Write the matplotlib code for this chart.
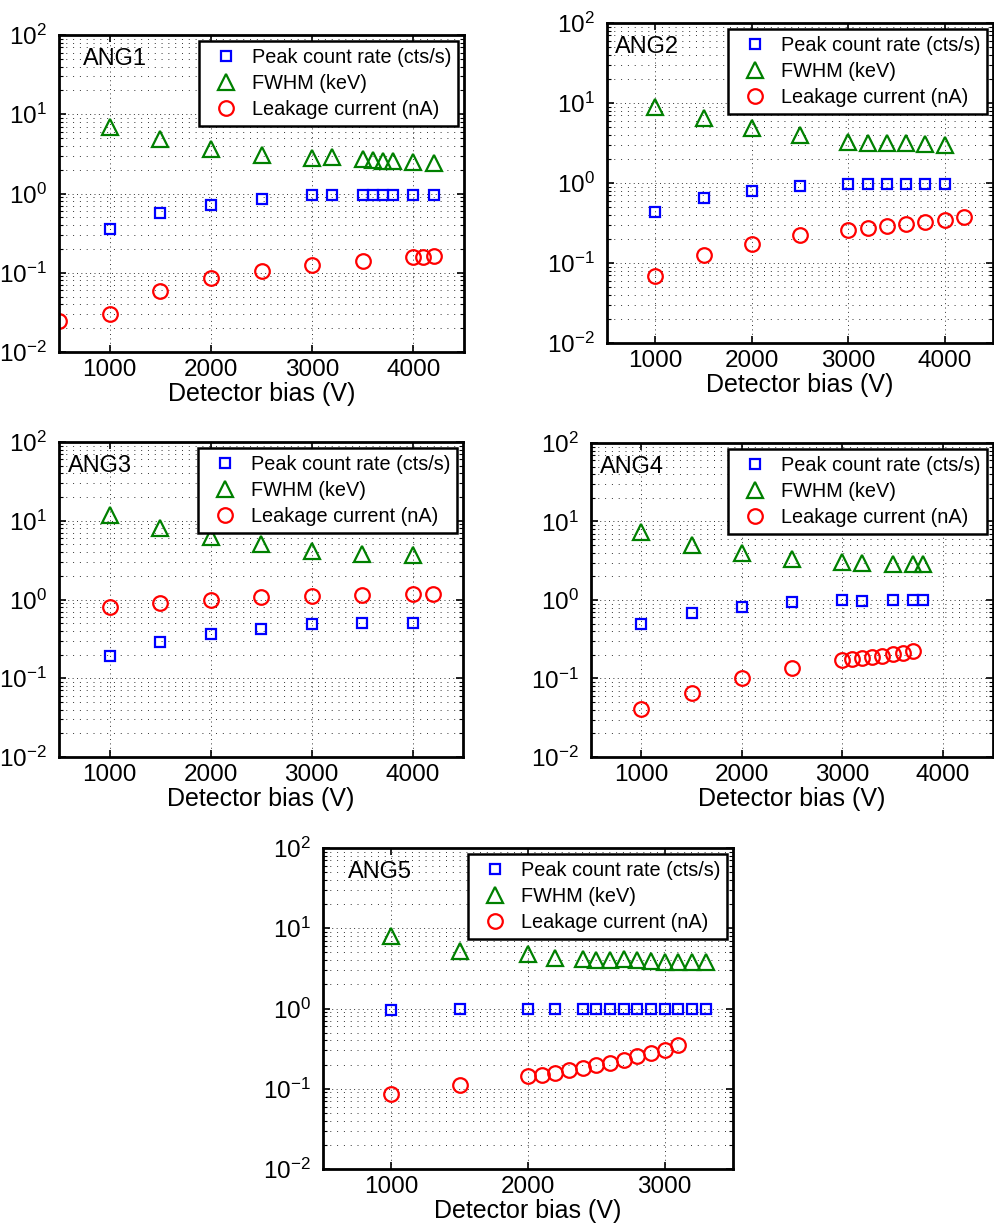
import matplotlib
matplotlib.use("Agg")
import matplotlib.pyplot as plt
from matplotlib.ticker import LogLocator, LogFormatterMathtext, NullFormatter

plt.rcParams['font.family'] = ['Liberation Sans', 'DejaVu Sans']
plt.rcParams['mathtext.fontset'] = 'custom'
plt.rcParams['mathtext.rm'] = 'Liberation Sans'
plt.rcParams['mathtext.it'] = 'Liberation Sans:italic'
plt.rcParams['mathtext.bf'] = 'Liberation Sans:bold'

# ---------------- datos ----------------
x_sq1 = [1000, 1500, 2000, 2500, 3000, 3200, 3500, 3600, 3700, 3800, 4000, 4200]
sq1 = [0.36, 0.565, 0.72, 0.86, 0.96, 0.97, 0.96, 0.96, 0.96, 0.96, 0.97, 0.97]
tri1 = [7.0, 4.9, 3.66, 3.04, 2.84, 2.87, 2.71, 2.62, 2.6, 2.58, 2.48, 2.46]
x_ci1 = [500, 1000, 1500, 2000, 2500, 3000, 3500, 4000, 4100, 4200]
ci1 = [0.0246, 0.0304, 0.0587, 0.0857, 0.106, 0.124, 0.140, 0.159, 0.160, 0.165]

x_sq2 = [1000, 1500, 2000, 2500, 3000, 3200, 3400, 3600, 3800, 4000]
sq2 = [0.437, 0.642, 0.787, 0.917, 0.98, 0.98, 0.98, 0.97, 0.985, 0.975]
tri2 = [8.87, 6.46, 4.84, 3.99, 3.26, 3.2, 3.14, 3.2, 3.1, 2.99]
x_ci2 = [1000, 1500, 2000, 2500, 3000, 3200, 3400, 3600, 3800, 4000, 4200]
ci2 = [0.0684, 0.1265, 0.175, 0.221, 0.258, 0.27, 0.286, 0.303, 0.325, 0.344, 0.371]

x_sq3 = [1000, 1500, 2000, 2500, 3000, 3500, 4000]
sq3 = [0.194, 0.286, 0.365, 0.426, 0.489, 0.503, 0.503]
tri3 = [11.9, 8.17, 6.22, 5.12, 4.09, 3.75, 3.64]
x_ci3 = [1000, 1500, 2000, 2500, 3000, 3500, 4000, 4200]
ci3 = [0.803, 0.912, 1.0, 1.065, 1.097, 1.13, 1.17, 1.17]

x_sq4 = [1000, 1500, 2000, 2500, 3000, 3200, 3500, 3700, 3800]
sq4 = [0.49, 0.677, 0.823, 0.943, 0.99, 0.98, 1.0, 1.0, 1.0]
tri4 = [7.39, 5.0, 4.0, 3.32, 3.01, 3.0, 2.87, 2.9, 2.9]
x_ci4 = [1000, 1500, 2000, 2500, 3000, 3100, 3200, 3300, 3400, 3500, 3600, 3700]
ci4 = [0.0404, 0.0658, 0.102, 0.138, 0.173, 0.178, 0.185, 0.19, 0.196, 0.204, 0.21, 0.222]

x_sq5 = [1000, 1500, 2000, 2200, 2400, 2500, 2600, 2700, 2800, 2900, 3000, 3100, 3200, 3300]
sq5 = [0.949, 0.976, 0.986, 0.995, 0.976, 0.976, 0.976, 0.976, 0.976, 0.976, 0.976, 0.976, 0.976, 0.976]
tri5 = [7.97, 5.24, 4.72, 4.2, 4.13, 3.97, 3.97, 4.17, 4.0, 3.9, 3.83, 3.75, 3.75, 3.83]
x_ci5 = [1000, 1500, 2000, 2100, 2200, 2300, 2400, 2500, 2600, 2700, 2800, 2900, 3000, 3100]
ci5 = [0.0848, 0.11, 0.145, 0.149, 0.159, 0.169, 0.18, 0.195, 0.21, 0.229, 0.256, 0.279, 0.308, 0.348]

nombres = ['ANG1', 'ANG2', 'ANG3', 'ANG4', 'ANG5']
etiquetas = ['Peak count rate (cts/s)', 'FWHM (keV)', 'Leakage current (nA)']
xticks_1a4 = [1000, 2000, 3000, 4000]
xticks_5 = [1000, 2000, 3000]

paneles = [
    (x_sq1, sq1, x_sq1, tri1, x_ci1, ci1, (500, 4500), xticks_1a4),
    (x_sq2, sq2, x_sq2, tri2, x_ci2, ci2, (500, 4500), xticks_1a4),
    (x_sq3, sq3, x_sq3, tri3, x_ci3, ci3, (500, 4500), xticks_1a4),
    (x_sq4, sq4, x_sq4, tri4, x_ci4, ci4, (500, 4500), xticks_1a4),
    (x_sq5, sq5, x_sq5, tri5, x_ci5, ci5, (500, 3500), xticks_5),
]

# posicion de cada panel en pixeles: izquierda, derecha, arriba, abajo
W, H = 995, 1229
cajas = [(59, 464, 35, 352), (607, 993, 23, 343), (59, 463, 442, 757),
         (591, 993, 443, 757), (323, 733, 848, 1169)]
x_texto = [0.06, 0.02, 0.022, 0.022, 0.06]

fig = plt.figure(figsize=(W / 100, H / 100), dpi=100)

for i, (xs, s, xt, t, xc, c, xl, xtk) in enumerate(paneles):
    l, r, top, b = cajas[i]
    ax = fig.add_axes([l / W, 1 - b / H, (r - l) / W, (b - top) / H])
    ax.set_yscale('log')
    ax.plot(xs, s, 's', ms=7.8, mfc='none', mec='blue', mew=1.6, label=etiquetas[0])
    ax.plot(xt, t, '^', ms=12, mfc='none', mec='green', mew=1.6, label=etiquetas[1])
    ax.plot(xc, c, 'o', ms=10.5, mfc='none', mec='red', mew=1.6, label=etiquetas[2])
    ax.set_xlim(*xl)
    ax.set_ylim(1e-2, 1e2)
    ax.set_xticks(xtk)
    ax.yaxis.set_major_locator(LogLocator(base=10, numticks=10))
    ax.yaxis.set_minor_locator(LogLocator(base=10, subs=range(2, 10), numticks=20))
    ax.yaxis.set_major_formatter(LogFormatterMathtext())
    ax.yaxis.set_minor_formatter(NullFormatter())
    ax.tick_params(which='both', direction='in', top=True, right=True, labelsize=17.5)
    ax.tick_params(which='major', length=5, width=1.2)
    ax.tick_params(which='minor', length=3, width=0.8)
    ax.tick_params(axis='y', pad=9)
    ax.tick_params(axis='x', pad=5)
    ax.grid(True, which='major', axis='x', color='0.2', linestyle=(0, (1, 3.5)), linewidth=0.7)
    ax.grid(True, which='major', axis='y', color='0.2', linestyle=(0, (1, 3.5)), linewidth=0.7)
    ax.grid(True, which='minor', axis='y', color='0.2', linestyle=(0, (1, 6)), linewidth=0.7)
    for sp in ax.spines.values():
        sp.set_linewidth(2)
    ax.set_xlabel('Detector bias (V)', fontsize=18, labelpad=1)
    ax.text(x_texto[i], 0.925, nombres[i], transform=ax.transAxes, fontsize=17,
            ha='left', va='center')
    leg = ax.legend(loc='upper right', fontsize=14.3, numpoints=1, handlelength=2.0,
                    handletextpad=0.3, borderaxespad=0.3, labelspacing=0.35,
                    fancybox=False, framealpha=1, borderpad=0.35)
    leg.get_frame().set_edgecolor('black')
    leg.get_frame().set_linewidth(1.8)

fig.savefig('out.png', dpi=100)
